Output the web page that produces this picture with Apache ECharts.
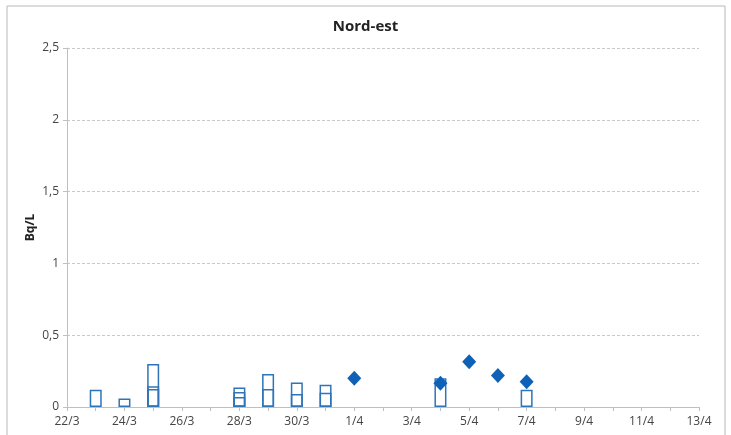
<!DOCTYPE html>
<html><head><meta charset="utf-8">
<script src="https://cdn.jsdelivr.net/npm/echarts@6/dist/echarts.min.js"></script>
<style>html,body{margin:0;padding:0;background:#fff}#c{width:731px;height:435px}</style>
</head><body><div id="c"></div>
<script>
// ---- data ----
const startDate = '22/3';
const endDate = '13/4';
const boxDates = ['23/3','24/3','25/3','28/3','29/3','30/3','31/3','4/4','7/4'];
const boxTop   = [0.12, 0.06, 0.30, 0.135, 0.23, 0.17, 0.155, 0.20, 0.12];
const midDates = ['25/3','28/3','29/3','30/3','31/3'];
const boxMid   = [0.145, 0.105, 0.125, 0.09, 0.10];
const lowDates = ['25/3','28/3'];
const boxLow   = [0.125, 0.07];
const diamondDates = ['1/4','4/4','5/4','6/4','7/4'];
const diamondValues = [0.20, 0.165, 0.315, 0.22, 0.175];
const yTicks = ['0','0,5','1','1,5','2','2,5'];

function toDay(s){ const [d,m]=s.split('/').map(Number); return Date.UTC(2011,m-1,d)/86400000; }
const base = toDay(startDate);
const span = toDay(endDate)-base;
function off(s){ return toDay(s)-base; }
function fromOff(o){ const dt=new Date((base+o)*86400000); return dt.getUTCDate()+'/'+(dt.getUTCMonth()+1); }
const pairs=(ds,vs)=>ds.map((d,i)=>[off(d),vs[i]]);

const boxColor='#2f74b8';
const font='"Open Sans", "Noto Sans", sans-serif';
const barStyle={color:'rgba(255,255,255,0)',borderColor:boxColor,borderWidth:1.5};

const chart=echarts.init(document.getElementById('c'));
chart.setOption({
  animation:false,
  title:{text:'Nord-est',left:'center',top:14,textStyle:{fontFamily:font,fontSize:15,fontWeight:'bold',color:'#222'}},
  graphic:[{type:'rect',shape:{x:7,y:6,width:718,height:440},style:{fill:'none',stroke:'#b8b8b8',lineWidth:1}}],
  grid:{left:67,right:32,top:48,bottom:28},
  xAxis:{type:'value',min:0,max:span,interval:1,
    axisLine:{lineStyle:{color:'#bfbfbf'}},
    axisTick:{show:true,length:4,lineStyle:{color:'#bfbfbf'}},
    splitLine:{show:false},
    axisLabel:{fontFamily:font,fontSize:12,color:'#444',margin:9,
      formatter:v=>(v%2===0?fromOff(v):'')}},
  yAxis:{type:'value',min:0,max:2.5,interval:0.5,
    name:'Bq/L',nameLocation:'middle',nameGap:30,nameMoveOverlap:false,
    nameTextStyle:{fontFamily:font,fontSize:12,fontWeight:'bold',color:'#222'},
    axisLine:{show:true,lineStyle:{color:'#bfbfbf'}},
    axisTick:{show:true,length:4,lineStyle:{color:'#bfbfbf'}},
    splitLine:{show:true,lineStyle:{color:'#c8c8c8',type:[3,2]}},
    axisLabel:{fontFamily:font,fontSize:12,color:'#444',margin:8,
      formatter:v=>yTicks[Math.round(v/0.5)]}},
  series:[
    {type:'bar',data:pairs(boxDates,boxTop),barWidth:12,barGap:'-100%',itemStyle:barStyle,z:2},
    {type:'bar',data:pairs(midDates,boxMid),barWidth:12,barGap:'-100%',itemStyle:barStyle,z:3},
    {type:'bar',data:pairs(lowDates,boxLow),barWidth:12,barGap:'-100%',itemStyle:barStyle,z:4},
    {type:'scatter',data:pairs(diamondDates,diamondValues),symbol:'diamond',symbolSize:[14,15],
      itemStyle:{color:'#0d62b8',opacity:1},z:5}
  ]
});
</script></body></html>
